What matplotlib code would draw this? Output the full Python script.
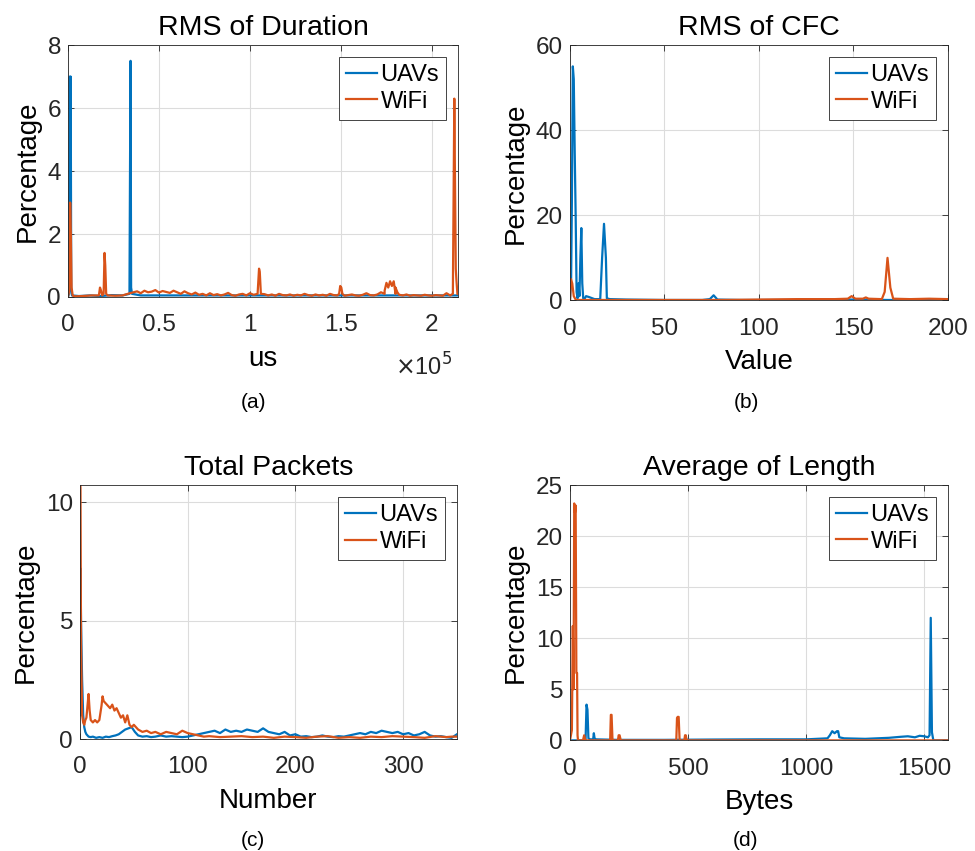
import matplotlib
matplotlib.use("Agg")
import matplotlib.pyplot as plt
import numpy as np

plt.rcParams['font.family'] = ['Liberation Sans', 'DejaVu Sans']

BLUE = '#0072BD'
ORANGE = '#D95319'

# ---- (a) RMS of Duration (us) ----
uav_a_x = [0, 600, 1000, 1300, 1500, 1800, 2200, 6000, 12000, 18000, 24000, 30000,
           33800, 34100, 34400, 34700, 35200, 40000, 80000, 120000, 160000, 200000, 214000]
uav_a_y = [0, 0.1, 7.0, 4.6, 7.0, 0.2, 0.05, 0.03, 0.05, 0.03, 0.06, 0.05,
           0.1, 4.0, 7.5, 0.3, 0.1, 0.05, 0.05, 0.05, 0.05, 0.05, 0.05]

wifi_a_spike_x = [0, 700, 1200, 1600, 2000, 2600, 3500, 8000, 13000, 17000, 17600, 18200,
                  18800, 19600, 20100, 20500, 21000, 21800, 26000, 30000,
                  104200, 105000, 105400, 106000,
                  149000, 149600, 150200, 150800,
                  174000, 175000, 176000, 177000, 178000, 179000, 180000, 181000,
                  211500, 212300, 212700, 213100, 213500, 214000]
wifi_a_spike_y = [0, 0.2, 3.0, 2.0, 0.3, 0.05, 0.02, 0.03, 0.05, 0.05, 0.3, 0.2,
                  0.05, 0.1, 1.4, 1.0, 0.1, 0.05, 0.04, 0.05,
                  0.1, 0.9, 0.8, 0.1,
                  0.1, 0.35, 0.3, 0.1,
                  0.2, 0.45, 0.3, 0.5, 0.35, 0.5, 0.3, 0.15,
                  0.1, 6.3, 3.5, 0.9, 0.5, 0.1]
wifi_a_base_y = [0.12, 0.15, 0.18, 0.12, 0.2, 0.15, 0.17, 0.22, 0.14, 0.19, 0.16, 0.13, 0.2,
                 0.15, 0.1, 0.18, 0.12, 0.08, 0.14, 0.07, 0.1, 0.05, 0.12, 0.06, 0.09, 0.05,
                 0.08, 0.13, 0.06, 0.04, 0.08, 0.1, 0.05, 0.12, 0.07, 0.04, 0.06, 0.09, 0.05,
                 0.08, 0.04, 0.1, 0.06, 0.05, 0.08, 0.04, 0.07, 0.05, 0.1, 0.06, 0.04, 0.08,
                 0.05, 0.07, 0.04, 0.1, 0.06, 0.05, 0.09, 0.04, 0.06, 0.08, 0.05, 0.04, 0.07,
                 0.12, 0.06, 0.05, 0.08, 0.15, 0.1, 0.06, 0.18, 0.1, 0.07, 0.05, 0.08, 0.04,
                 0.06, 0.05, 0.04, 0.07, 0.05, 0.04, 0.06, 0.05, 0.04, 0.12, 0.05]

# ---- (b) RMS of CFC ----
uav_b_x = [0, 0.6, 1.0, 1.5, 2.0, 2.5, 3.0, 3.5, 4.0, 4.5, 5.0, 5.5, 6.0, 6.5, 7.0, 7.5,
           8.5, 10, 13, 16, 17, 18, 19, 19.5, 21, 30, 50, 70, 74, 76, 78, 90,
           120, 150, 168, 180, 200]
uav_b_y = [0, 5, 23, 55, 52, 35, 20, 2, 0.5, 4, 1, 10, 17, 4, 0.5, 0.2,
           1, 0.8, 0.3, 0.3, 10, 18, 10, 0.5, 0.3, 0.2, 0.1, 0.1, 0.3, 1.2, 0.2, 0.1,
           0.1, 0.2, 0.1, 0.1, 0.1]
wifi_b_x = [0, 0.5, 1.2, 2.0, 3.0, 4.0, 10, 20, 40, 60, 80, 100, 120, 140, 147, 149, 151,
            155, 156.5, 158, 165, 166.5, 168, 169.5, 171, 180, 190, 200]
wifi_b_y = [0, 5, 4, 1, 0.2, 0.1, 0.1, 0.1, 0.1, 0.1, 0.1, 0.2, 0.3, 0.3, 0.4, 1.0, 0.4,
            0.4, 0.7, 0.4, 0.3, 2.0, 10, 3, 0.4, 0.3, 0.4, 0.3]

# ---- (c) Total Packets ----
uav_c_x = [0, 0.5, 1, 1.5, 2, 3, 4, 5, 6, 8, 10, 12, 15, 18, 21, 24, 27, 30, 33, 36, 39,
           42, 45, 48, 51, 54, 58, 62, 66, 70, 75, 80, 85, 90, 95, 100, 105, 110, 115,
           120, 125, 130, 135, 140, 145, 150, 155, 160, 165, 170, 175, 180, 185, 190,
           195, 200, 205, 210, 215, 220, 225, 230, 235, 240, 245, 250, 255, 260, 265,
           270, 275, 280, 285, 290, 295, 300, 305, 310, 315, 320, 325, 330, 335, 340,
           345, 350]
uav_c_y = [1.0, 7.2, 5.0, 3.7, 2.5, 1.0, 0.5, 0.3, 0.2, 0.1, 0.08, 0.1, 0.05, 0.08, 0.05,
           0.1, 0.08, 0.12, 0.15, 0.2, 0.3, 0.4, 0.45, 0.5, 0.3, 0.15, 0.1, 0.12, 0.08,
           0.1, 0.15, 0.1, 0.12, 0.1, 0.08, 0.1, 0.15, 0.2, 0.25, 0.3, 0.35, 0.25, 0.4,
           0.3, 0.35, 0.3, 0.4, 0.35, 0.3, 0.45, 0.3, 0.25, 0.2, 0.3, 0.15, 0.2, 0.1,
           0.12, 0.08, 0.1, 0.15, 0.1, 0.08, 0.12, 0.1, 0.15, 0.2, 0.25, 0.2, 0.3, 0.25,
           0.35, 0.3, 0.25, 0.3, 0.2, 0.25, 0.15, 0.2, 0.3, 0.15, 0.1, 0.12, 0.08, 0.05,
           0.2]
wifi_c_x = [0, 0.5, 1, 2, 3, 4, 5, 6, 7, 8, 9, 10, 12, 14, 16, 18, 20, 21, 22, 24, 26,
            28, 30, 32, 34, 36, 38, 40, 42, 44, 46, 48, 50, 54, 58, 62, 66, 70, 75, 80,
            85, 90, 95, 100, 105, 110, 115, 120, 130, 140, 150, 160, 170, 180, 190, 200,
            210, 220, 230, 240, 250, 260, 270, 280, 290, 300, 310, 320, 330, 340, 345, 350]
wifi_c_y = [11.0, 10.6, 4.0, 1.0, 0.7, 0.6, 0.8, 0.9, 1.4, 1.9, 1.2, 0.8, 0.7, 0.8, 0.7,
            0.8, 1.4, 1.8, 1.6, 1.5, 1.4, 1.3, 1.45, 1.2, 1.3, 1.1, 0.9, 1.0, 0.7, 1.0,
            0.6, 0.5, 0.6, 0.4, 0.3, 0.35, 0.25, 0.3, 0.2, 0.3, 0.25, 0.2, 0.35, 0.25,
            0.2, 0.15, 0.1, 0.12, 0.08, 0.1, 0.12, 0.08, 0.1, 0.05, 0.1, 0.08, 0.05, 0.1,
            0.12, 0.05, 0.08, 0.05, 0.1, 0.08, 0.12, 0.1, 0.08, 0.05, 0.12, 0.08, 0.1, 0.1]

# ---- (d) Average of Length ----
uav_d_x = [0, 60, 66, 70, 74, 78, 85, 98, 101, 104, 110, 200, 400, 600, 800, 1000,
           1090, 1100, 1110, 1120, 1130, 1135, 1140, 1160, 1250, 1350, 1400, 1430,
           1460, 1480, 1500, 1515, 1522, 1527, 1532, 1538, 1560, 1600]
uav_d_y = [0, 0, 0.1, 3.5, 3.0, 0.2, 0.1, 0.1, 0.7, 0.2, 0.1, 0.05, 0.05, 0.08, 0.1, 0.1,
           0.2, 0.5, 0.9, 0.7, 0.9, 0.9, 0.3, 0.2, 0.15, 0.25, 0.35, 0.4, 0.3, 0.45,
           0.4, 0.3, 0.5, 12, 0.8, 0, 0, 0]
wifi_d_x = [0, 8, 12, 15, 18, 21, 24, 27, 30, 32, 34, 38, 55, 60, 65, 170, 173, 176, 180,
            183, 203, 206, 210, 215, 450, 453, 456, 460, 464, 484, 487, 490, 494, 600,
            1000, 1600]
wifi_d_y = [0, 1.0, 11.2, 5.0, 23.2, 22.3, 23.0, 6.6, 6.6, 0.5, 0, 0, 0, 0.5, 0, 0, 2.5,
            2.5, 0, 0, 0, 0.5, 0.5, 0, 0, 2.2, 2.3, 2.3, 0, 0, 0.5, 0.5, 0, 0, 0, 0]

# merge the WiFi baseline and its spikes for panel (a)
base_x = np.arange(34000, 34000 + 2000 * len(wifi_a_base_y), 2000)
keep = [(x, y) for x, y in zip(base_x, wifi_a_base_y)
        if not any(abs(x - s) < 1500 for s in [105000, 150000, 177000, 212500])]
pts = sorted(list(zip(wifi_a_spike_x, wifi_a_spike_y)) + keep)
wifi_a_x = [p[0] for p in pts]
wifi_a_y = [p[1] for p in pts]

fig = plt.figure(figsize=(9.75, 8.51), dpi=100)

panels = [
    dict(pos=[0.0697, 0.651, 0.400, 0.296], uav=(uav_a_x, uav_a_y), wifi=(wifi_a_x, wifi_a_y),
         title='RMS of Duration', xlabel='us', xlim=(0, 214300), ylim=(0, 8),
         xticks=[0, 50000, 100000, 150000, 200000], xtl=['0', '0.5', '1', '1.5', '2'],
         yticks=[0, 2, 4, 6, 8], cap='(a)', capxy=(253, 402)),
    dict(pos=[0.5846, 0.647, 0.3877, 0.300], uav=(uav_b_x, uav_b_y), wifi=(wifi_b_x, wifi_b_y),
         title='RMS of CFC', xlabel='Value', xlim=(0, 200), ylim=(0, 60),
         xticks=[0, 50, 100, 150, 200], xtl=None, yticks=[0, 20, 40, 60],
         cap='(b)', capxy=(746, 402)),
    dict(pos=[0.082, 0.1316, 0.3867, 0.298], uav=(uav_c_x, uav_c_y), wifi=(wifi_c_x, wifi_c_y),
         title='Total Packets', xlabel='Number', xlim=(0, 350), ylim=(0, 10.7),
         xticks=[0, 100, 200, 300], xtl=None, yticks=[0, 5, 10],
         cap='(c)', capxy=(253, 840)),
    dict(pos=[0.5846, 0.130, 0.3877, 0.300], uav=(uav_d_x, uav_d_y), wifi=(wifi_d_x, wifi_d_y),
         title='Average of Length', xlabel='Bytes', xlim=(0, 1600), ylim=(0, 25),
         xticks=[0, 500, 1000, 1500], xtl=None, yticks=[0, 5, 10, 15, 20, 25],
         cap='(d)', capxy=(746, 840)),
]

W, H = 975.0, 851.0

for p in panels:
    ax = fig.add_axes(p['pos'])
    ax.plot(*p['uav'], color=BLUE, lw=1.6, label='UAVs')
    ax.plot(*p['wifi'], color=ORANGE, lw=1.6, label='WiFi')
    ax.set_xlim(*p['xlim'])
    ax.set_ylim(*p['ylim'])
    ax.set_xticks(p['xticks'])
    if p['xtl'] is not None:
        ax.set_xticklabels(p['xtl'])
    ax.set_yticks(p['yticks'])
    ax.grid(True, color='#dcdcdc', lw=0.8)
    ax.set_axisbelow(True)
    ax.tick_params(direction='in', top=True, right=True, labelsize=17.5,
                   colors='#262626', length=4, width=0.6)
    ax.tick_params(axis='x', pad=12.5)
    ax.tick_params(axis='y', pad=5)
    for s in ax.spines.values():
        s.set_color('#262626')
        s.set_linewidth(0.6)
    ax.set_title(p['title'], fontsize=20.5, pad=7.5)
    ax.set_xlabel(p['xlabel'], fontsize=20, labelpad=7)
    ax.set_ylabel('Percentage', fontsize=20, labelpad=5)
    leg = ax.legend(loc='upper right', fontsize=17, fancybox=False, framealpha=1,
                    edgecolor='#262626', handlelength=1.3, handletextpad=0.15,
                    borderpad=0.3, labelspacing=0.2, borderaxespad=0.5)
    leg.get_frame().set_linewidth(0.6)
    cx, cy = p['capxy']
    fig.text(cx / W, 1 - cy / H, p['cap'], ha='center', va='center', fontsize=15)

# exponent label for panel (a)
fig.text(395 / W, 1 - 367 / H, r'$\times$10$^5$', fontsize=17, ha='left', va='center',
         color='#262626')

fig.savefig('out.png', dpi=100)
